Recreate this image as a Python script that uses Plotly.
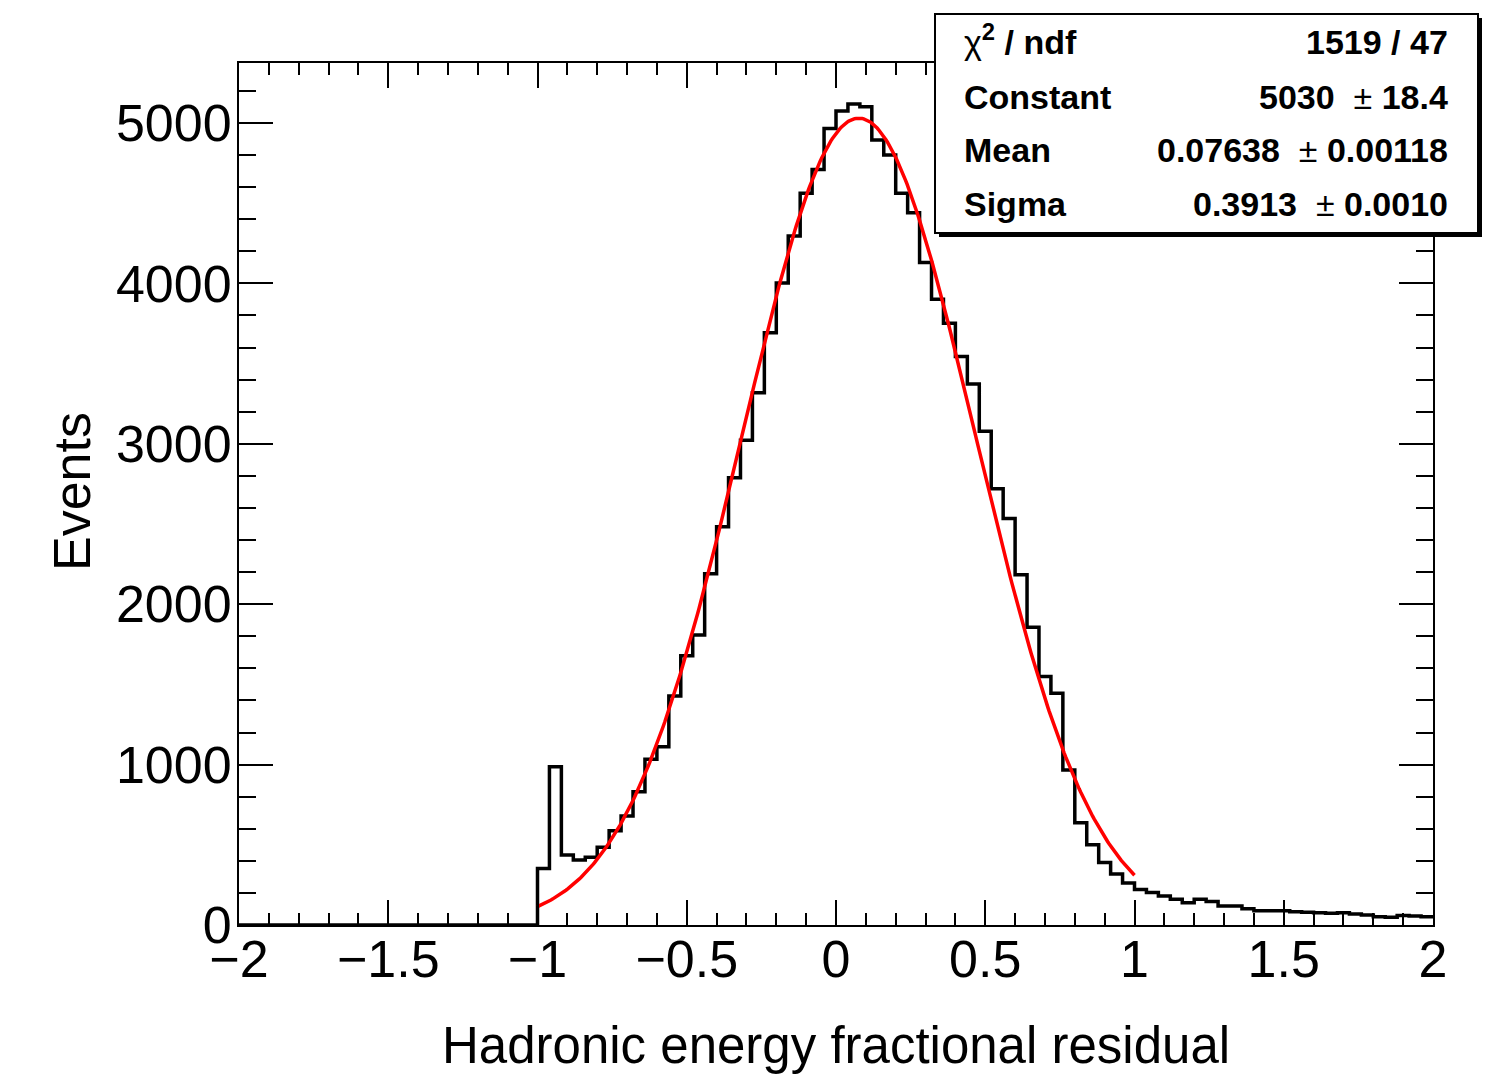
import numpy as np
import plotly.graph_objects as go

# ---- data ----
bin_low = -2.0
bin_width = 0.04
counts = [0] * 25 + [
    353, 987, 436, 405, 422, 484, 588, 680, 831, 1033,
    1112, 1428, 1679, 1808, 2190, 2483, 2788, 3022, 3318, 3692,
    4002, 4295, 4562, 4710, 4965,
    5075, 5119, 5102, 4894, 4801, 4562, 4441, 4130, 3901, 3751,
    3544, 3373, 3078, 2720, 2534, 2184, 1856, 1550, 1445, 966,
    638, 500, 390, 318, 262,
    222, 202, 181, 160, 139, 160, 146, 119, 119, 102,
    89, 89, 89, 83, 79, 77, 73, 77, 69, 62,
    52, 48, 60, 56, 52,
]

# Gaussian fit parameters (from the stats box)
fit_constant = 5030.0
fit_mean = 0.07638
fit_sigma = 0.3913
fit_range = [-1.0, 1.0]

stat_labels = ["χ<sup><b>2</b></sup><b> / ndf</b>", "<b>Constant</b>", "<b>Mean</b>", "<b>Sigma</b>"]
stat_values = ["<b>1519 / 47</b>", "<b>5030</b>  ± <b>18.4</b>",
               "<b>0.07638</b>  ± <b>0.00118</b>", "<b>0.3913</b>  ± <b>0.0010</b>"]

x_tick_vals = [-2, -1.5, -1, -0.5, 0, 0.5, 1, 1.5, 2]
y_tick_vals = [0, 1000, 2000, 3000, 4000, 5000]

# ---- geometry (page pixels; body margin removed via post_script) ----
W, H = 1505, 1076
L, R, T, B = 239, 1433, 63, 925          # frame in page pixels
pw, ph = R - L, B - T

def px(xp):
    return (xp - L) / pw

def py(yp):
    return (B - yp) / ph

n = len(counts)
edges = [bin_low + i * bin_width for i in range(n + 1)]
step_x = edges
step_y = counts + [counts[-1]]

fx = np.linspace(fit_range[0], fit_range[1], 400)
fy = fit_constant * np.exp(-0.5 * ((fx - fit_mean) / fit_sigma) ** 2)

fig = go.Figure()
fig.add_trace(go.Scatter(x=step_x, y=step_y, mode="lines", line_shape="hv",
                         line=dict(color="black", width=3.5), showlegend=False,
                         hoverinfo="skip"))
fig.add_trace(go.Scatter(x=fx, y=fy, mode="lines",
                         line=dict(color="#ff0000", width=3.5), showlegend=False,
                         hoverinfo="skip"))

font_family = "Liberation Sans, Arial, Helvetica, sans-serif"

fig.update_layout(
    width=W, height=H, autosize=False,
    margin=dict(l=L, r=W - R, t=T, b=H - B, pad=0),
    paper_bgcolor="white", plot_bgcolor="white",
    font=dict(family=font_family, color="black"),
    showlegend=False,
)
fig.update_xaxes(
    range=[-2, 2], tickvals=x_tick_vals,
    ticktext=[("−" + f"{abs(v):g}") if v < 0 else f"{v:g}" for v in x_tick_vals],
    ticks="inside", ticklen=25, tickwidth=2, tickcolor="black",
    minor=dict(dtick=0.1, tick0=0, ticks="inside", ticklen=12, tickwidth=2, tickcolor="black"),
    showline=True, linecolor="black", linewidth=2, mirror="ticks",
    showgrid=False, zeroline=False,
    ticklabelstandoff=-12,
    tickfont=dict(size=52, family=font_family),
)
fig.update_yaxes(
    range=[0, 5374], tickvals=y_tick_vals,
    ticks="inside", ticklen=34, tickwidth=2, tickcolor="black",
    minor=dict(dtick=200, tick0=0, ticks="inside", ticklen=17, tickwidth=2, tickcolor="black"),
    showline=True, linecolor="black", linewidth=2, mirror="ticks",
    showgrid=False, zeroline=False,
    ticklabelstandoff=-5,
    tickfont=dict(size=52, family=font_family),
)

# axis titles
fig.add_annotation(text="Hadronic energy fractional residual", xref="paper", yref="paper",
                   x=px(836), y=py(1045), showarrow=False, font=dict(size=51),
                   xanchor="center", yanchor="middle")
fig.add_annotation(text="Events", xref="paper", yref="paper", textangle=-90,
                   x=px(72), y=py(492), showarrow=False, font=dict(size=52),
                   xanchor="center", yanchor="middle")

# stats box with shadow
bx0, by0, bx1, by1 = 935, 14, 1478, 233
sh = 4
fig.add_shape(type="rect", xref="paper", yref="paper",
              x0=px(bx0 + sh), x1=px(bx1 + sh), y0=py(by1 + sh), y1=py(by0 + sh),
              fillcolor="black", line=dict(width=0), layer="above")
fig.add_shape(type="rect", xref="paper", yref="paper",
              x0=px(bx0), x1=px(bx1), y0=py(by1), y1=py(by0),
              fillcolor="white", line=dict(color="black", width=2), layer="above")

row_y = [39, 97, 150, 204]
for lab, val, ry in zip(stat_labels, stat_values, row_y):
    fig.add_annotation(text=lab, xref="paper", yref="paper", x=px(962), y=py(ry),
                       xanchor="left", yanchor="middle", showarrow=False,
                       font=dict(size=34))
    fig.add_annotation(text=val, xref="paper", yref="paper", x=px(1450), y=py(ry + (3 if ry == 39 else 0)),
                       xanchor="right", yanchor="middle", showarrow=False,
                       font=dict(size=34))

fig.write_html(
    "out.html",
    config={"displayModeBar": False},
    post_script="document.body.style.margin='0';document.body.style.overflow='hidden';",
)
